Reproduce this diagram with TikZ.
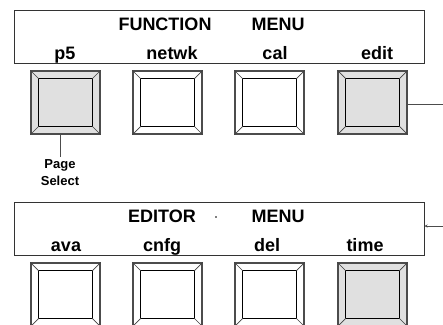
\documentclass[tikz,border=0pt]{standalone}
\usepackage{fontspec}
\setmainfont{Liberation Sans}
\usetikzlibrary{arrows.meta}

\begin{document}
\begin{tikzpicture}[x=1pt,y=-1pt]
\tikzset{menubox/.style={draw=black!80, line width=1pt, minimum width=410pt, minimum height=53pt, inner sep=0pt},
  keybox/.style={draw=black!70, line width=1.2pt, minimum width=69pt, minimum height=63pt, inner sep=0pt},
  keydown/.style={keybox, fill=black!12},
  bigtxt/.style={font=\fontsize{18}{21}\selectfont\bfseries, anchor=base, inner sep=0pt},
  smalltxt/.style={font=\fontsize{13}{16.5}\selectfont\bfseries, align=center, inner sep=2.5pt}}
\useasboundingbox (0,0) rectangle (443,324);
\clip (0,0) rectangle (443,324);
% function menu
\node[menubox] (funcmenu) at (219,36.5) {};
\node[bigtxt] (ftitle1) at (165,30.7) {FUNCTION};
\node[bigtxt] (ftitle2) at (278,30.7) {MENU};
\node[bigtxt] (flab1) at (65,59) {p5};
\node[bigtxt] (flab2) at (172,59) {netwk};
\node[bigtxt] (flab3) at (275,59) {cal};
\node[bigtxt] (flab4) at (377,59) {edit};
\node[keydown] (fk1) at (65.5,102.5) {};
\node[keybox] (fk2) at (167.5,102.5) {};
\node[keybox] (fk3) at (269.5,102.5) {};
\node[keydown] (fk4) at (372.5,102.5) {};
% editor menu
\node[menubox] (editmenu) at (219,228.5) {};
\node[bigtxt] (etitle1) at (162,222.7) {EDITOR};
\node[bigtxt] (etitle2) at (278,222.7) {MENU};
\fill[black!50] (214.5,215.5) rectangle (216.5,217.5);
\node[bigtxt] (elab1) at (66,251) {ava};
\node[bigtxt] (elab2) at (162,251) {cnfg};
\node[bigtxt] (elab3) at (267,251) {del};
\node[bigtxt] (elab4) at (365,251) {time};
\node[keybox] (ek1) at (65.5,294.5) {};
\node[keybox] (ek2) at (167.5,294.5) {};
\node[keybox] (ek3) at (269.5,294.5) {};
\node[keydown] (ek4) at (372.5,294.5) {};
% key bevels
\foreach \k in {fk1,fk2,fk3,fk4,ek1,ek2,ek3,ek4} {
  \draw[black, line width=0.9pt] ([shift={(8.5pt,8.5pt)}]\k.south west) rectangle ([shift={(-8.5pt,-8.5pt)}]\k.north east);
  \draw[black!75, line width=0.7pt] (\k.south west) -- ([shift={(8.5pt,8.5pt)}]\k.south west);
  \draw[black!75, line width=0.7pt] (\k.north west) -- ([shift={(8.5pt,-8.5pt)}]\k.north west);
  \draw[black!75, line width=0.7pt] (\k.north east) -- ([shift={(-8.5pt,-8.5pt)}]\k.north east);
  \draw[black!75, line width=0.7pt] (\k.south east) -- ([shift={(-8.5pt,8.5pt)}]\k.south east);
}
% page select
\node[smalltxt, anchor=north] (pagesel) at (60,157) {Page\\Select};
\draw[black!70, line width=0.9pt] (fk1.south -| pagesel.north) -- (pagesel.north);
% links on the right
\coordinate (fkout) at (443,104);
\coordinate (ekin) at (443,226);
\draw[black!70, line width=0.9pt] (fkout -| fk4.east) -- (fkout);
\draw[black!70, line width=0.9pt, -{Stealth[length=3pt,width=3pt]}] (ekin) -- (ekin -| editmenu.east);
\end{tikzpicture}
\end{document}
